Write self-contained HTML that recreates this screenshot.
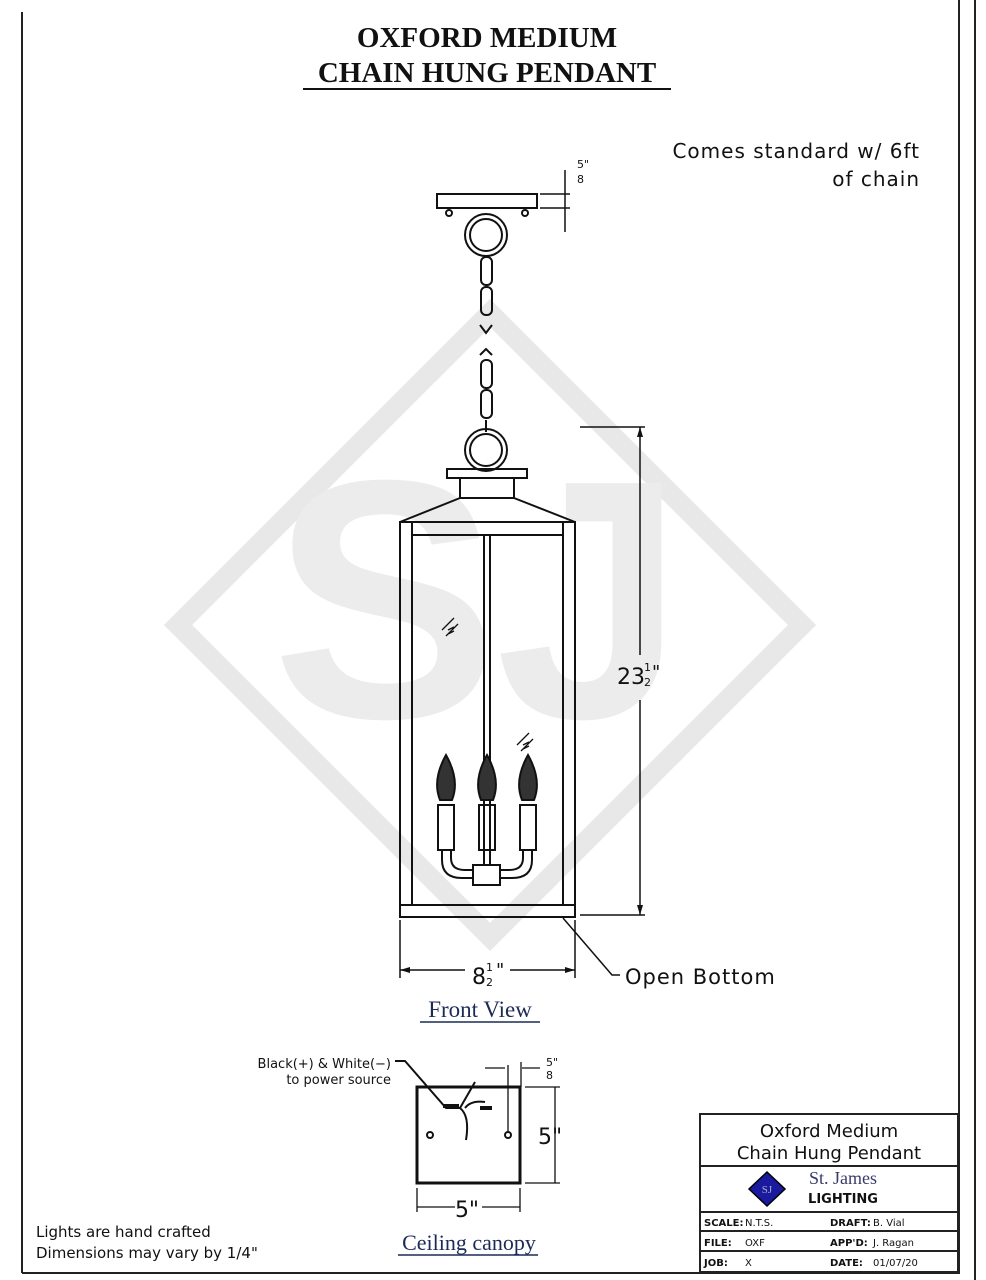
<!DOCTYPE html>
<html><head><meta charset="utf-8"><style>
html,body{margin:0;padding:0;background:#fff;}
svg{display:block;}
.s{font-family:"DejaVu Sans","Liberation Sans",sans-serif;}
.r{font-family:"Liberation Serif",serif;}
</style></head><body>
<svg width="986" height="1280" viewBox="0 0 986 1280" xmlns="http://www.w3.org/2000/svg">
<rect width="986" height="1280" fill="#fff"/>
<!-- watermark -->
<g fill="none" stroke="#e8e8e8">
<polygon points="490,313 802,625 490,937 178,625" stroke-width="20"/>
</g>
<text x="385" y="717" text-anchor="middle" font-family="Liberation Sans,sans-serif" font-weight="bold" font-size="340" fill="#ececec">S</text>
<text x="590" y="717" text-anchor="middle" font-family="Liberation Sans,sans-serif" font-weight="bold" font-size="340" fill="#ececec">J</text>
<!-- borders -->
<g stroke="#222" fill="none">
<line x1="22" y1="12" x2="22" y2="1273" stroke-width="2"/>
<line x1="22" y1="1273" x2="960" y2="1273" stroke-width="2"/>
<line x1="959" y1="0" x2="959" y2="1273" stroke-width="2"/>
<line x1="975" y1="0" x2="975" y2="1280" stroke-width="2"/>
</g>
<!-- title -->
<text x="487" y="47" text-anchor="middle" class="r" font-weight="bold" font-size="29" fill="#111">OXFORD MEDIUM</text>
<text x="487" y="82" text-anchor="middle" class="r" font-weight="bold" font-size="29" fill="#111">CHAIN HUNG PENDANT</text>
<line x1="303" y1="89" x2="671" y2="89" stroke="#111" stroke-width="2"/>
<text x="920" y="158" text-anchor="end" class="s" font-size="20" fill="#111" letter-spacing="1">Comes standard w/ 6ft</text>
<text x="920" y="186" text-anchor="end" class="s" font-size="20" fill="#111" letter-spacing="1">of chain</text>
<g stroke="#111" fill="none" stroke-width="2">
<!-- canopy -->
<rect x="437" y="194" width="100" height="14"/>
<circle cx="449" cy="213" r="3"/><circle cx="525" cy="213" r="3"/>
<circle cx="486" cy="235" r="21"/><circle cx="486" cy="235" r="16"/>
<rect x="481" y="257" width="11" height="28" rx="5"/>
<rect x="481" y="287" width="11" height="28" rx="5"/>
<path d="M480 325 l6 8 l6 -8"/><path d="M480 355 l6 -6 l6 6"/>
<rect x="481" y="360" width="11" height="28" rx="5"/>
<rect x="481" y="390" width="11" height="28" rx="5"/>
<circle cx="486" cy="450" r="21"/><circle cx="486" cy="450" r="16"/>
<line x1="486" y1="420" x2="486" y2="432"/>
<!-- lantern -->
<rect x="447" y="469" width="80" height="9"/>
<rect x="460" y="478" width="54" height="20"/>
<path d="M460 498 L400 522 L575 522 L514 498"/>
<rect x="400" y="522" width="175" height="395"/>
<line x1="412" y1="522" x2="412" y2="905"/>
<line x1="563" y1="522" x2="563" y2="905"/>
<line x1="412" y1="535" x2="563" y2="535"/>
<line x1="400" y1="905" x2="575" y2="905"/>
<line x1="484" y1="535" x2="484" y2="865"/>
<line x1="490" y1="535" x2="490" y2="865"/>
<!-- candles -->
<g fill="#333" stroke="#111">
<path d="M446 755 q-14 25 -6 45 l12 0 q8 -20 -6 -45z"/>
<path d="M487 755 q-14 25 -6 45 l12 0 q8 -20 -6 -45z"/>
<path d="M528 755 q-14 25 -6 45 l12 0 q8 -20 -6 -45z"/>
</g>
<rect x="438" y="805" width="16" height="45"/>
<rect x="479" y="805" width="16" height="45"/>
<rect x="520" y="805" width="16" height="45"/>
<path d="M442 850 v10 q0 18 20 18 h12 M451 850 v8 q0 12 14 12 h8"/>
<path d="M532 850 v10 q0 18 -20 18 h-12 M523 850 v8 q0 12 -14 12 h-8"/>
<rect x="473" y="865" width="27" height="20"/>
<path d="M442 630 l12 -12 M446 636 l12 -12 M448 630 l6 -3 M448 634 l6 -3" stroke-width="1.3"/>
<path d="M517 745 l12 -12 M521 751 l12 -12 M523 745 l6 -3 M523 749 l6 -3" stroke-width="1.3"/>
</g>
<!-- dims -->
<g stroke="#111" fill="none" stroke-width="1.5">
<line x1="580" y1="427" x2="645" y2="427"/>
<line x1="580" y1="915" x2="645" y2="915"/>
<line x1="640" y1="427" x2="640" y2="655"/>
<line x1="640" y1="700" x2="640" y2="915"/>
<line x1="400" y1="920" x2="400" y2="978"/>
<line x1="575" y1="920" x2="575" y2="978"/>
<line x1="400" y1="970" x2="465" y2="970"/>
<line x1="510" y1="970" x2="575" y2="970"/>
<path d="M563 918 L612 975 L620 975"/>
<line x1="540" y1="194" x2="570" y2="194"/>
<line x1="540" y1="208" x2="570" y2="208"/>
<line x1="565" y1="170" x2="565" y2="232"/>
</g>
<g fill="#111">
<path d="M640 427 l-3 10 h6z"/><path d="M640 915 l-3 -10 h6z"/>
<path d="M400 970 l10 -3 v6z"/><path d="M575 970 l-10 -3 v6z"/>
</g>
<text x="617" y="684" class="s" font-size="22" fill="#111">23</text>
<text x="644" y="671" class="s" font-size="11" fill="#111">1</text>
<text x="644" y="686" class="s" font-size="11" fill="#111">2</text>
<text x="652" y="678" class="s" font-size="18" fill="#111">"</text>
<text x="472" y="984" class="s" font-size="22" fill="#111">8</text>
<text x="486" y="971" class="s" font-size="11" fill="#111">1</text>
<text x="486" y="986" class="s" font-size="11" fill="#111">2</text>
<text x="496" y="976" class="s" font-size="18" fill="#111">"</text>
<text x="577" y="168" class="s" font-size="11" fill="#111">5"</text>
<text x="577" y="183" class="s" font-size="11" fill="#111">8</text>
<text x="625" y="984" class="s" font-size="21" fill="#111" letter-spacing="1">Open Bottom</text>
<text x="480" y="1017" text-anchor="middle" class="r" font-size="23" fill="#1c2b55">Front View</text>
<line x1="420" y1="1022" x2="540" y2="1022" stroke="#1c2b55" stroke-width="1.5"/>
<!-- ceiling canopy -->
<g stroke="#111" fill="none" stroke-width="2">
<rect x="417" y="1087" width="103" height="96" stroke-width="3"/>
<circle cx="430" cy="1135" r="3"/><circle cx="508" cy="1135" r="3"/>
<line x1="508" y1="1065" x2="508" y2="1132" stroke-width="1.3"/>
<path d="M395 1061 L405 1061 L446 1108 L460 1108 L475 1082 M460 1108 q10 8 6 32 M465 1108 q6 -8 20 -6" stroke-width="2"/>
<path d="M443 1106 l16 0 M480 1108 l12 0" stroke-width="4"/>
<g stroke-width="1.3">
<line x1="525" y1="1087" x2="560" y2="1087"/>
<line x1="525" y1="1183" x2="560" y2="1183"/>
<line x1="555" y1="1087" x2="555" y2="1183"/>
<line x1="417" y1="1188" x2="417" y2="1212"/>
<line x1="520" y1="1188" x2="520" y2="1212"/>
<line x1="417" y1="1207" x2="455" y2="1207"/>
<line x1="482" y1="1207" x2="520" y2="1207"/>
<line x1="485" y1="1068" x2="505" y2="1068"/>
<line x1="522" y1="1068" x2="540" y2="1068"/>
<line x1="521" y1="1062" x2="521" y2="1087"/>
</g>
</g>
<text x="391" y="1068" text-anchor="end" class="s" font-size="13" fill="#111">Black(+) &amp; White(−)</text>
<text x="391" y="1084" text-anchor="end" class="s" font-size="13" fill="#111">to power source</text>
<text x="538" y="1144" class="s" font-size="22" fill="#111">5"</text>
<text x="467" y="1217" text-anchor="middle" class="s" font-size="22" fill="#111">5"</text>
<text x="546" y="1066" class="s" font-size="11" fill="#111">5"</text>
<text x="546" y="1079" class="s" font-size="11" fill="#111">8</text>
<text x="469" y="1250" text-anchor="middle" class="r" font-size="22" fill="#1c2b55">Ceiling canopy</text>
<line x1="398" y1="1255" x2="538" y2="1255" stroke="#1c2b55" stroke-width="1.5"/>
<text x="36" y="1237" class="s" font-size="15" fill="#111">Lights are hand crafted</text>
<text x="36" y="1258" class="s" font-size="15" fill="#111">Dimensions may vary by 1/4"</text>
<!-- title block -->
<g stroke="#222" fill="none" stroke-width="2">
<rect x="700" y="1114" width="258" height="158"/>
<line x1="700" y1="1166" x2="958" y2="1166"/>
<line x1="700" y1="1212" x2="958" y2="1212"/>
<line x1="700" y1="1231" x2="958" y2="1231"/>
<line x1="700" y1="1251" x2="958" y2="1251"/>
</g>
<text x="829" y="1137" text-anchor="middle" class="s" font-size="18" fill="#111">Oxford Medium</text>
<text x="829" y="1159" text-anchor="middle" class="s" font-size="18" fill="#111">Chain Hung Pendant</text>
<polygon points="767,1172 785,1189 767,1206 749,1189" fill="#1a1aa0" stroke="#000" stroke-width="1.5"/>
<text x="767" y="1193" text-anchor="middle" class="r" font-size="11" fill="#aab">SJ</text>
<text x="843" y="1184" text-anchor="middle" class="r" font-size="18" fill="#3a3a6a">St. James</text>
<text x="843" y="1203" text-anchor="middle" class="s" font-size="13" font-weight="bold" fill="#111">LIGHTING</text>
<g class="s" font-size="10" fill="#111">
<text x="704" y="1226" font-weight="bold">SCALE:</text><text x="745" y="1226">N.T.S.</text>
<text x="830" y="1226" font-weight="bold">DRAFT:</text><text x="873" y="1226">B. Vial</text>
<text x="704" y="1246" font-weight="bold">FILE:</text><text x="745" y="1246">OXF</text>
<text x="830" y="1246" font-weight="bold">APP'D:</text><text x="873" y="1246">J. Ragan</text>
<text x="704" y="1266" font-weight="bold">JOB:</text><text x="745" y="1266">X</text>
<text x="830" y="1266" font-weight="bold">DATE:</text><text x="873" y="1266">01/07/20</text>
</g>
</svg>
</body></html>
